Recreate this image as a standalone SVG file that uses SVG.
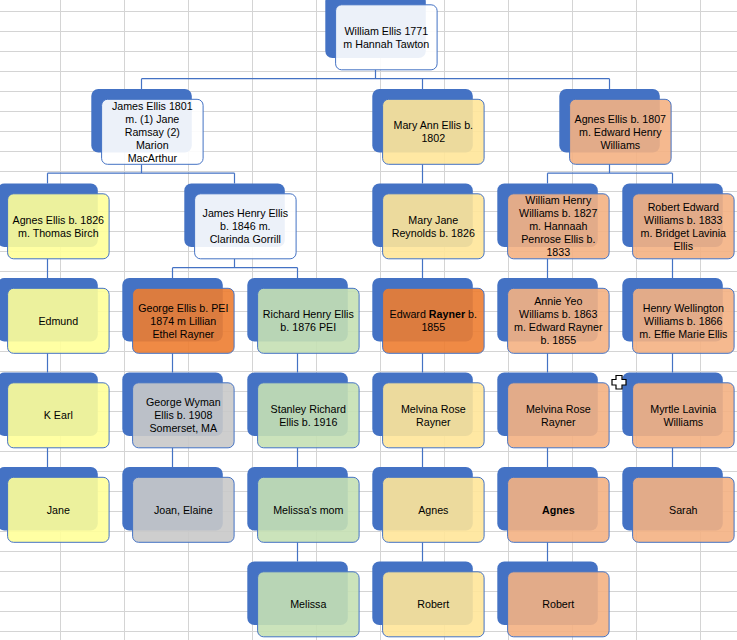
<svg xmlns="http://www.w3.org/2000/svg" width="737" height="640" viewBox="0 0 737 640">
<defs>
<style>
.grid{stroke:#D4D4D4;stroke-width:1;fill:none}
.cn{stroke:#4472C4;stroke-width:1.2;fill:none}
.bk{fill:#4472C4}
.fr{stroke:#4472C4;stroke-width:1;fill-opacity:0.9}
.w{fill:#FFFFFF}.y{fill:#FFFF99}.g{fill:#FFE699}.s{fill:#F4B183}.o{fill:#ED7D31}.gr{fill:#C5E0B4}.gy{fill:#C9C9C9}
text{font-family:"Liberation Sans",Arial,sans-serif;font-size:10.7px;fill:#000;text-anchor:middle}
.b{font-weight:bold}
</style>
</defs>
<rect width="737" height="640" fill="#FFFFFF"/>
<g id="grid" class="grid">
<path d="M0 11.5H737M0 31.5H737M0 51.5H737M0 71.5H737M0 91.5H737M0 111.5H737M0 131.5H737M0 151.5H737M0 171.5H737M0 191.5H737M0 211.5H737M0 231.5H737M0 251.5H737M0 271.5H737M0 291.5H737M0 311.5H737M0 331.5H737M0 351.5H737M0 371.5H737M0 391.5H737M0 411.5H737M0 431.5H737M0 451.5H737M0 471.5H737M0 491.5H737M0 511.5H737M0 531.5H737M0 551.5H737M0 571.5H737M0 591.5H737M0 611.5H737M0 631.5H737"/>
<path d="M60.5 0V640M124.5 0V640M188.5 0V640M252.5 0V640M316.5 0V640M380.5 0V640M444.5 0V640M508.5 0V640M572.5 0V640M636.5 0V640M700.5 0V640"/>
</g>
<g id="connectors" class="cn">
<path d="M375.5 69.8V78.7M141.5 78.7H609.5M141.5 78.7V89M422.5 78.7V89M609.5 78.7V89"/>
<path d="M141.5 164.3V173.2M47.5 173.2H234.5M47.5 173.2V183.5M234.5 173.2V183.5"/>
<path d="M422.5 164.3V183.5"/>
<path d="M609.5 164.3V173.2M547.5 173.2H672.5M547.5 173.2V183.5M672.5 173.2V183.5"/>
<path d="M234.5 258.8V267.7M172.5 267.7H297.5M172.5 267.7V278M297.5 267.7V278"/>
<path d="M47.5 258.8V278M47.5 353.3V372.5M47.5 447.8V467"/>
<path d="M172.5 353.3V372.5M172.5 447.8V467"/>
<path d="M297.5 353.3V372.5M297.5 447.8V467M297.5 542.3V561.5"/>
<path d="M422.5 258.8V278M422.5 353.3V372.5M422.5 447.8V467M422.5 542.3V561.5"/>
<path d="M547.5 258.8V278M547.5 353.3V372.5M547.5 447.8V467M547.5 542.3V561.5"/>
<path d="M672.5 258.8V278M672.5 353.3V372.5M672.5 447.8V467"/>
</g>

<g id="n-william">
<rect class="bk" x="325.3" y="-5.5" width="100.5" height="63.5" rx="7"/>
<rect class="fr w" x="335.6" y="4.8" width="101.5" height="65" rx="6"/>
<text x="386.3" y="34.6">William Ellis 1771</text>
<text x="386.3" y="47.6">m Hannah Tawton</text>
</g>

<g id="n-james">
<rect class="bk" x="91.3" y="89" width="100.5" height="63.5" rx="7"/>
<rect class="fr w" x="101.6" y="99.3" width="101.5" height="65" rx="6"/>
<text x="152.3" y="109.6">James Ellis 1801</text>
<text x="152.3" y="122.6">m. (1) Jane</text>
<text x="152.3" y="135.6">Ramsay (2)</text>
<text x="152.3" y="148.6">Marion</text>
<text x="152.3" y="161.6">MacArthur</text>
</g>

<g id="n-maryann">
<rect class="bk" x="372.3" y="89" width="100.5" height="63.5" rx="7"/>
<rect class="fr g" x="382.6" y="99.3" width="101.5" height="65" rx="6"/>
<text x="433.3" y="129.1">Mary Ann Ellis b.</text>
<text x="433.3" y="142.1">1802</text>
</g>

<g id="n-agnes1807">
<rect class="bk" x="559.3" y="89" width="100.5" height="63.5" rx="7"/>
<rect class="fr s" x="569.6" y="99.3" width="101.5" height="65" rx="6"/>
<text x="620.3" y="122.6">Agnes Ellis b. 1807</text>
<text x="620.3" y="135.6">m. Edward Henry</text>
<text x="620.3" y="148.6">Williams</text>
</g>

<g id="n-agnes1826">
<rect class="bk" x="-2.7" y="183.5" width="100.5" height="63.5" rx="7"/>
<rect class="fr y" x="7.6" y="193.8" width="101.5" height="65" rx="6"/>
<text x="58.3" y="223.6">Agnes Ellis b. 1826</text>
<text x="58.3" y="236.6">m. Thomas Birch</text>
</g>

<g id="n-jameshenry">
<rect class="bk" x="184.3" y="183.5" width="100.5" height="63.5" rx="7"/>
<rect class="fr w" x="194.6" y="193.8" width="101.5" height="65" rx="6"/>
<text x="245.3" y="217.1">James Henry Ellis</text>
<text x="245.3" y="230.1">b. 1846 m.</text>
<text x="245.3" y="243.1">Clarinda Gorrill</text>
</g>

<g id="n-maryjane">
<rect class="bk" x="372.3" y="183.5" width="100.5" height="63.5" rx="7"/>
<rect class="fr g" x="382.6" y="193.8" width="101.5" height="65" rx="6"/>
<text x="433.3" y="223.6">Mary Jane</text>
<text x="433.3" y="236.6">Reynolds b. 1826</text>
</g>

<g id="n-williamhenry">
<rect class="bk" x="497.3" y="183.5" width="100.5" height="63.5" rx="7"/>
<rect class="fr s" x="507.6" y="193.8" width="101.5" height="65" rx="6"/>
<text x="558.3" y="204.1">William Henry</text>
<text x="558.3" y="217.1">Williams b. 1827</text>
<text x="558.3" y="230.1">m. Hannaah</text>
<text x="558.3" y="243.1">Penrose Ellis b.</text>
<text x="558.3" y="256.1">1833</text>
</g>

<g id="n-robertedward">
<rect class="bk" x="622.3" y="183.5" width="100.5" height="63.5" rx="7"/>
<rect class="fr s" x="632.6" y="193.8" width="101.5" height="65" rx="6"/>
<text x="683.3" y="210.6">Robert Edward</text>
<text x="683.3" y="223.6">Williams b. 1833</text>
<text x="683.3" y="236.6">m. Bridget Lavinia</text>
<text x="683.3" y="249.6">Ellis</text>
</g>

<g id="n-edmund">
<rect class="bk" x="-2.7" y="278" width="100.5" height="63.5" rx="7"/>
<rect class="fr y" x="7.6" y="288.3" width="101.5" height="65" rx="6"/>
<text x="58.3" y="324.6">Edmund</text>
</g>

<g id="n-georgeellis">
<rect class="bk" x="122.3" y="278" width="100.5" height="63.5" rx="7"/>
<rect class="fr o" x="132.6" y="288.3" width="101.5" height="65" rx="6"/>
<text x="183.3" y="311.6">George Ellis b. PEI</text>
<text x="183.3" y="324.6">1874 m Lillian</text>
<text x="183.3" y="337.6">Ethel Rayner</text>
</g>

<g id="n-richard">
<rect class="bk" x="247.3" y="278" width="100.5" height="63.5" rx="7"/>
<rect class="fr gr" x="257.6" y="288.3" width="101.5" height="65" rx="6"/>
<text x="308.3" y="318.1">Richard Henry Ellis</text>
<text x="308.3" y="331.1">b. 1876 PEI</text>
</g>

<g id="n-edwardrayner">
<rect class="bk" x="372.3" y="278" width="100.5" height="63.5" rx="7"/>
<rect class="fr o" x="382.6" y="288.3" width="101.5" height="65" rx="6"/>
<text x="433.3" y="318.1">Edward <tspan class="b">Rayner</tspan> b.</text>
<text x="433.3" y="331.1">1855</text>
</g>

<g id="n-annieyeo">
<rect class="bk" x="497.3" y="278" width="100.5" height="63.5" rx="7"/>
<rect class="fr s" x="507.6" y="288.3" width="101.5" height="65" rx="6"/>
<text x="558.3" y="305.1">Annie Yeo</text>
<text x="558.3" y="318.1">Williams b. 1863</text>
<text x="558.3" y="331.1">m. Edward Rayner</text>
<text x="558.3" y="344.1">b. 1855</text>
</g>

<g id="n-henrywellington">
<rect class="bk" x="622.3" y="278" width="100.5" height="63.5" rx="7"/>
<rect class="fr s" x="632.6" y="288.3" width="101.5" height="65" rx="6"/>
<text x="683.3" y="311.6">Henry Wellington</text>
<text x="683.3" y="324.6">Williams b. 1866</text>
<text x="683.3" y="337.6">m. Effie Marie Ellis</text>
</g>

<g id="n-kearl">
<rect class="bk" x="-2.7" y="372.5" width="100.5" height="63.5" rx="7"/>
<rect class="fr y" x="7.6" y="382.8" width="101.5" height="65" rx="6"/>
<text x="58.3" y="419.1">K Earl</text>
</g>

<g id="n-georgewyman">
<rect class="bk" x="122.3" y="372.5" width="100.5" height="63.5" rx="7"/>
<rect class="fr gy" x="132.6" y="382.8" width="101.5" height="65" rx="6"/>
<text x="183.3" y="406.1">George Wyman</text>
<text x="183.3" y="419.1">Ellis b. 1908</text>
<text x="183.3" y="432.1">Somerset, MA</text>
</g>

<g id="n-stanley">
<rect class="bk" x="247.3" y="372.5" width="100.5" height="63.5" rx="7"/>
<rect class="fr gr" x="257.6" y="382.8" width="101.5" height="65" rx="6"/>
<text x="308.3" y="412.6">Stanley Richard</text>
<text x="308.3" y="425.6">Ellis b. 1916</text>
</g>

<g id="n-melvina-d">
<rect class="bk" x="372.3" y="372.5" width="100.5" height="63.5" rx="7"/>
<rect class="fr g" x="382.6" y="382.8" width="101.5" height="65" rx="6"/>
<text x="433.3" y="412.6">Melvina Rose</text>
<text x="433.3" y="425.6">Rayner</text>
</g>

<g id="n-melvina-e">
<rect class="bk" x="497.3" y="372.5" width="100.5" height="63.5" rx="7"/>
<rect class="fr s" x="507.6" y="382.8" width="101.5" height="65" rx="6"/>
<text x="558.3" y="412.6">Melvina Rose</text>
<text x="558.3" y="425.6">Rayner</text>
</g>

<g id="n-myrtle">
<rect class="bk" x="622.3" y="372.5" width="100.5" height="63.5" rx="7"/>
<rect class="fr s" x="632.6" y="382.8" width="101.5" height="65" rx="6"/>
<text x="683.3" y="412.6">Myrtle Lavinia</text>
<text x="683.3" y="425.6">Williams</text>
</g>

<g id="n-jane">
<rect class="bk" x="-2.7" y="467" width="100.5" height="63.5" rx="7"/>
<rect class="fr y" x="7.6" y="477.3" width="101.5" height="65" rx="6"/>
<text x="58.3" y="513.6">Jane</text>
</g>

<g id="n-joan">
<rect class="bk" x="122.3" y="467" width="100.5" height="63.5" rx="7"/>
<rect class="fr gy" x="132.6" y="477.3" width="101.5" height="65" rx="6"/>
<text x="183.3" y="513.6">Joan, Elaine</text>
</g>

<g id="n-melissasmom">
<rect class="bk" x="247.3" y="467" width="100.5" height="63.5" rx="7"/>
<rect class="fr gr" x="257.6" y="477.3" width="101.5" height="65" rx="6"/>
<text x="308.3" y="513.6">Melissa's mom</text>
</g>

<g id="n-agnes-d">
<rect class="bk" x="372.3" y="467" width="100.5" height="63.5" rx="7"/>
<rect class="fr g" x="382.6" y="477.3" width="101.5" height="65" rx="6"/>
<text x="433.3" y="513.6">Agnes</text>
</g>

<g id="n-agnes-e">
<rect class="bk" x="497.3" y="467" width="100.5" height="63.5" rx="7"/>
<rect class="fr s" x="507.6" y="477.3" width="101.5" height="65" rx="6"/>
<text class="b" x="558.3" y="513.6">Agnes</text>
</g>

<g id="n-sarah">
<rect class="bk" x="622.3" y="467" width="100.5" height="63.5" rx="7"/>
<rect class="fr s" x="632.6" y="477.3" width="101.5" height="65" rx="6"/>
<text x="683.3" y="513.6">Sarah</text>
</g>

<g id="n-melissa">
<rect class="bk" x="247.3" y="561.5" width="100.5" height="63.5" rx="7"/>
<rect class="fr gr" x="257.6" y="571.8" width="101.5" height="65" rx="6"/>
<text x="308.3" y="608.1">Melissa</text>
</g>

<g id="n-robert-d">
<rect class="bk" x="372.3" y="561.5" width="100.5" height="63.5" rx="7"/>
<rect class="fr g" x="382.6" y="571.8" width="101.5" height="65" rx="6"/>
<text x="433.3" y="608.1">Robert</text>
</g>

<g id="n-robert-e">
<rect class="bk" x="497.3" y="561.5" width="100.5" height="63.5" rx="7"/>
<rect class="fr s" x="507.6" y="571.8" width="101.5" height="65" rx="6"/>
<text x="558.3" y="608.1">Robert</text>
</g>

<g id="cursor">
<polygon points="616,375.5 622,375.5 622,379.5 626,379.5 626,385 622,385 622,389 616,389 616,385 612,385 612,379.5 616,379.5" fill="#FFFFFF" stroke="#000000" stroke-width="1.2"/>
</g>
</svg>
